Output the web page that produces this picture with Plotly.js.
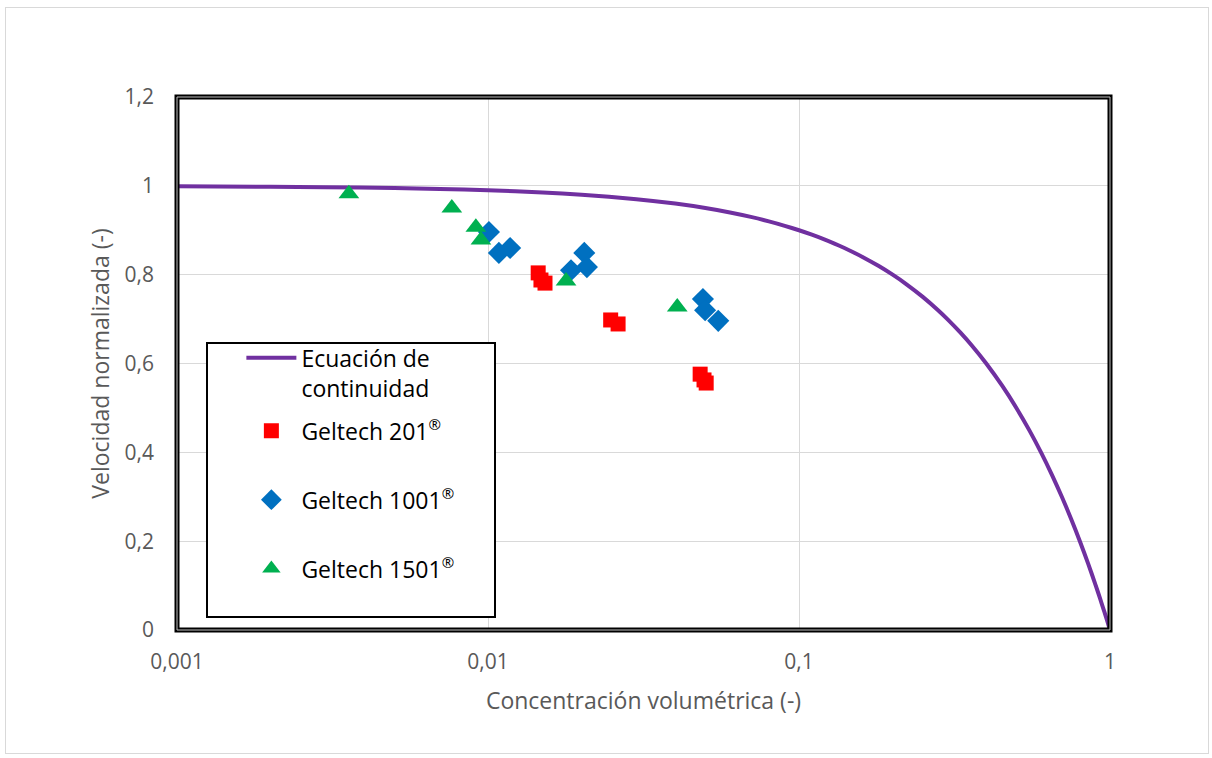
<!DOCTYPE html>
<html>
<head>
<meta charset="utf-8">
<script src="https://cdn.plot.ly/plotly-3.0.1.min.js"></script>
<style>
html,body{margin:0;padding:0;background:#fff;}
#frame{position:absolute;left:5px;top:7px;width:1204px;height:747px;border:1px solid #d9d9d9;box-sizing:border-box;}
#chart{position:absolute;left:0;top:0;width:1212px;height:758px;}
</style>
</head>
<body>
<div id="frame"></div>
<div id="chart"></div>
<script>
// Ecuación de continuidad
const curveX = [0.001,0.002,0.003,0.005,0.007,0.01,0.015,0.02,0.03,0.04,0.05,0.06,0.07,0.08,0.09,0.1,0.11,0.12,0.13,0.14,0.15,0.16,0.18,0.2,0.22,0.25,0.28,0.3,0.33,0.36,0.4,0.45,0.5,0.55,0.6,0.65,0.7,0.75,0.8,0.85,0.9,0.93,0.95,0.97,0.99,1];
const curveY = [0.999,0.998,0.997,0.995,0.993,0.99,0.985,0.98,0.97,0.96,0.95,0.94,0.93,0.92,0.91,0.9,0.89,0.88,0.87,0.86,0.85,0.84,0.82,0.8,0.78,0.75,0.72,0.7,0.67,0.64,0.6,0.55,0.5,0.45,0.4,0.35,0.3,0.25,0.2,0.15,0.1,0.07,0.05,0.03,0.01,0];
// Geltech 201
const g201X = [0.0145,0.0148,0.01525,0.0248,0.0262,0.0481,0.0495,0.0503];
const g201Y = [0.804,0.788,0.781,0.698,0.689,0.576,0.563,0.556];
// Geltech 1001
const g1001X = [0.01007,0.01084,0.01178,0.0204,0.0208,0.01849,0.0491,0.0499,0.055];
const g1001Y = [0.896,0.849,0.860,0.849,0.817,0.810,0.745,0.720,0.696];
// Geltech 1501
const g1501X = [0.00357,0.00765,0.00914,0.00949,0.01782,0.0406];
const g1501Y = [0.982,0.950,0.907,0.878,0.786,0.727];
const xTickVals = [0.001,0.01,0.1,1];
const xTickText = ['0,001','0,01','0,1','1'];

const font = '"Open Sans", "Noto Sans", sans-serif';
const reg = '<sup><span style="font-size:15px">®</span></sup>';
const traces = [
  {x: curveX, y: curveY, mode: 'lines', name: 'Ecuación de<br>continuidad', line: {color: '#7030A0', width: 4, shape: 'spline', smoothing: 0.6}, legend: 'legend'},
  {x: g201X, y: g201Y, mode: 'markers', name: 'Geltech 201' + reg, marker: {symbol: 'square', color: '#FF0000', size: 15}, legend: 'legend2', legendgroup: 'b'},
  {x: g1001X, y: g1001Y, mode: 'markers', name: 'Geltech 1001' + reg, marker: {symbol: 'diamond', color: '#0070C0', size: 17}, legend: 'legend2', legendgroup: 'c'},
  {x: g1501X, y: g1501Y, mode: 'markers', name: 'Geltech 1501' + reg, marker: {symbol: 'triangle-up', color: '#00B050', size: 18}, legend: 'legend2', legendgroup: 'd'}
];
const legendBase = {x: 0.069, xanchor: 'left', yanchor: 'top', bgcolor: 'rgba(0,0,0,0)', borderwidth: 0,
  font: {size: 23, color: '#000'}, traceorder: 'grouped', tracegroupgap: 36, itemwidth: 50, valign: 'top'};
const layout = {
  width: 1212, height: 758,
  margin: {l: 177, r: 102, t: 97, b: 128},
  paper_bgcolor: 'rgba(0,0,0,0)', plot_bgcolor: '#fff',
  separators: ',.',
  font: {family: font, color: '#595959', size: 21},
  showlegend: true,
  legend: Object.assign({}, legendBase, {y: 0.551}),
  legend2: Object.assign({}, legendBase, {y: 0.414, valign: 'middle'}),
  xaxis: {type: 'log', range: [-3, 0], tickvals: xTickVals, ticktext: xTickText, showgrid: true, gridcolor: '#d9d9d9', gridwidth: 1,
    zeroline: false, showline: false, ticks: '', ticklabelstandoff: 17,
    title: {text: 'Concentración volumétrica (-)', font: {size: 23, color: '#595959'}, standoff: 18}},
  yaxis: {range: [0, 1.2], dtick: 0.2, tick0: 0, showgrid: true, gridcolor: '#d9d9d9', gridwidth: 1, zeroline: false, showline: false,
    ticks: '', ticklabelstandoff: 22,
    title: {text: 'Velocidad normalizada (-)', font: {size: 23, color: '#595959'}, standoff: 8}},
  shapes: [
    {type: 'rect', xref: 'paper', yref: 'paper', x0: 0, x1: 1, y0: 0, y1: 1, line: {color: '#000', width: 5}, layer: 'above'},
    {type: 'rect', xref: 'paper', yref: 'paper', x0: 0, x1: 1, y0: 0, y1: 1, line: {color: '#bfbfbf', width: 1}, layer: 'above'},
    {type: 'rect', xref: 'paper', yref: 'paper', x0: 30/933, x1: 318/933, y0: (630-617)/533, y1: (630-343)/533,
      line: {color: '#000', width: 2}, fillcolor: '#fff', layer: 'above'}
  ]
};
Plotly.newPlot('chart', traces, layout, {displayModeBar: false, staticPlot: true});
</script>
</body>
</html>
